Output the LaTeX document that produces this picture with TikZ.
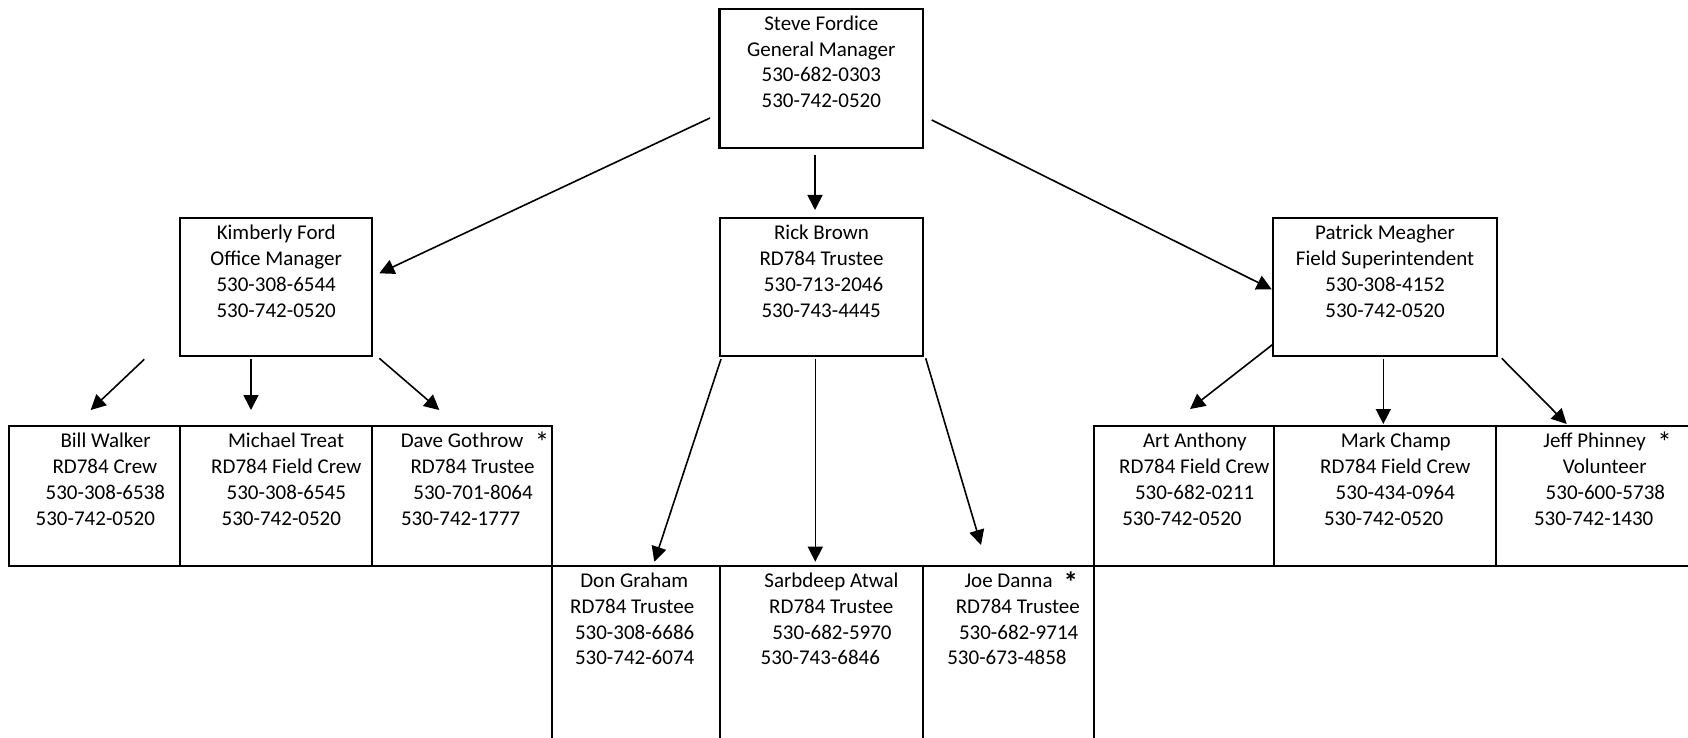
\documentclass[tikz,border=0pt]{standalone}
\usepackage{fontspec}
\setmainfont{Carlito}
\usetikzlibrary{arrows.meta}
\tikzset{
  box/.style={draw, line width=2.2pt, inner sep=0pt, outer sep=0pt},
  txt/.style={inner sep=0pt, outer sep=0pt, font=\fontsize{21}{26}\selectfont},
  arr/.style={line width=1.6pt, -{Triangle[length=15pt,width=15pt]}},
}
\newcommand\mkcell[5]{\node[box, minimum width={#4-#2}, minimum height={#5-#3}] (#1) at ({(#2+#4)/2},{(#3+#5)/2}) {};}
\newcommand\tlft[4]{\node[txt,anchor=base west] (#1) at (#2,#3) {#4};}
\newcommand\tcen[4]{\node[txt,anchor=base] (#1) at (#2,#3) {#4};}
\newcommand\astk{{\fontsize{29}{26}\selectfont\raisebox{-5pt}{*}}}
\newcommand\bastk{{\fontsize{29}{26}\selectfont\raisebox{-5pt}{\textbf{*}}}}
\begin{document}
\begin{tikzpicture}[x=1pt,y=-1pt]
\useasboundingbox (0,0) rectangle (1688,738);
\clip (0,0) rectangle (1688,738);
% top boxes
\mkcell{steve}{719.5}{9}{923}{147.7}
\mkcell{kim}{180}{217.7}{372.3}{355.7}
\mkcell{rick}{720}{217.7}{923.3}{355.7}
\mkcell{pat}{1273.3}{217.7}{1496.7}{355.7}
% left row
\mkcell{bill}{9.3}{426}{180}{566}
\mkcell{mike}{180}{426}{372}{566}
\mkcell{dave}{372}{426}{552}{566}
% middle row
\mkcell{don}{552}{566}{720}{790}
\mkcell{sarb}{720}{566}{923.3}{790}
\mkcell{joe}{923.3}{566}{1094}{790}
% right row
\mkcell{art}{1094}{426}{1274}{566}
\mkcell{mark}{1274}{426}{1496}{566}
\mkcell{jeff}{1496}{426}{1730}{566}
% texts: top
\tcen{st1}{821.3}{30.8}{Steve Fordice}
\tcen{st2}{821.3}{56.3}{General Manager}
\tcen{st3}{821.3}{81.8}{530-682-0303}
\tcen{st4}{821.3}{107.3}{530-742-0520}
\tcen{ki1}{276.2}{239.1}{Kimberly Ford}
\tcen{ki2}{276.2}{265.4}{Office Manager}
\tcen{ki3}{276.2}{291.5}{530-308-6544}
\tcen{ki4}{276.2}{317.5}{530-742-0520}
\tcen{ri1}{821.5}{239.1}{Rick Brown}
\tcen{ri2}{821.5}{265.4}{RD784 Trustee}
\tcen{ri3}{823.6}{291.5}{530-713-2046}
\tcen{ri4}{821.2}{317.5}{530-743-4445}
\tcen{pa1}{1385}{239.1}{Patrick Meagher}
\tcen{pa2}{1385}{265.4}{Field Superintendent}
\tcen{pa3}{1385}{291.5}{530-308-4152}
\tcen{pa4}{1385}{317.5}{530-742-0520}
% left row texts
\tlft{bw1}{60.5}{447.5}{Bill Walker}
\tlft{bw2}{52.5}{473.5}{RD784 Crew}
\tlft{bw3}{45.7}{499.8}{530-308-6538}
\tlft{bw4}{35.7}{525.4}{530-742-0520}
\tlft{mt1}{228}{447.5}{Michael Treat}
\tlft{mt2}{211.2}{473.5}{RD784 Field Crew}
\tlft{mt3}{226.7}{499.8}{530-308-6545}
\tlft{mt4}{221.7}{525.4}{530-742-0520}
\tlft{dg1}{400.8}{447.5}{Dave Gothrow\hspace{11.5pt}\astk}
\tlft{dg2}{410.5}{473.5}{RD784 Trustee}
\tlft{dg3}{413.4}{499.8}{530-701-8064}
\tlft{dg4}{401}{525.4}{530-742-1777}
% middle row texts
\tlft{dn1}{580.3}{587.8}{Don Graham}
\tlft{dn2}{570.2}{613.5}{RD784 Trustee}
\tlft{dn3}{575}{639.1}{530-308-6686}
\tlft{dn4}{575}{664.8}{530-742-6074}
\tlft{sa1}{764.4}{587.8}{Sarbdeep Atwal}
\tlft{sa2}{769.2}{613.5}{RD784 Trustee}
\tlft{sa3}{772.3}{639.1}{530-682-5970}
\tlft{sa4}{760.7}{664.8}{530-743-6846}
\tlft{jd1}{964.5}{587.8}{Joe Danna\hspace{11pt}\bastk}
\tlft{jd2}{955.8}{613.5}{RD784 Trustee}
\tlft{jd3}{959}{639.1}{530-682-9714}
\tlft{jd4}{947.3}{664.8}{530-673-4858}
% right row texts
\tlft{aa1}{1143}{447.5}{Art Anthony}
\tlft{aa2}{1119.2}{473.5}{RD784 Field Crew}
\tlft{aa3}{1135}{499.8}{530-682-0211}
\tlft{aa4}{1122.3}{525.4}{530-742-0520}
\tlft{mc1}{1340.8}{447.5}{Mark Champ}
\tlft{mc2}{1320.2}{473.5}{RD784 Field Crew}
\tlft{mc3}{1335.7}{499.8}{530-434-0964}
\tlft{mc4}{1324}{525.4}{530-742-0520}
\tlft{jp1}{1543.3}{447.5}{Jeff Phinney\hspace{11.5pt}\astk}
\tlft{jp2}{1562.8}{473.5}{Volunteer}
\tlft{jp3}{1545.7}{499.8}{530-600-5738}
\tlft{jp4}{1534}{525.4}{530-742-1430}
% connector end points
\coordinate (sk0) at (710,118);      \coordinate (sk1) at (379.3,273.3);
\coordinate (sr0) at (815,155);      \coordinate (sr1) at (815,210);
\coordinate (sp0) at (931.7,120);    \coordinate (sp1) at (1271.7,289.3);
\coordinate (kb0) at (144.3,359.3);  \coordinate (kb1) at (90.7,410);
\coordinate (km0) at (251,359.3);    \coordinate (km1) at (251,410);
\coordinate (kd0) at (379.3,358.3);  \coordinate (kd1) at (439.3,410);
\coordinate (rd0) at (721,359);      \coordinate (rd1) at (654.3,561.7);
\coordinate (rs0) at (815.3,359);    \coordinate (rs1) at (815.3,561.7);
\coordinate (rj0) at (925.7,358.3);  \coordinate (rj1) at (981,545);
\coordinate (pa0) at (1273.3,344);   \coordinate (pa1c) at (1190,409);
\coordinate (pm0) at (1383.3,359);   \coordinate (pm1) at (1383.3,424);
\coordinate (pj0) at (1501.7,358.3); \coordinate (pj1) at (1566.7,424);
\draw[arr] (sk0) -- (sk1);
\draw[arr] (sr0) -- (sr1);
\draw[arr] (sp0) -- (sp1);
\draw[arr] (kb0) -- (kb1);
\draw[arr] (km0) -- (km1);
\draw[arr] (kd0) -- (kd1);
\draw[arr] (rd0) -- (rd1);
\draw[arr] (rs0) -- (rs1);
\draw[arr] (rj0) -- (rj1);
\draw[arr] (pa0) -- (pa1c);
\draw[arr] (pm0) -- (pm1);
\draw[arr] (pj0) -- (pj1);
\end{tikzpicture}
\end{document}
